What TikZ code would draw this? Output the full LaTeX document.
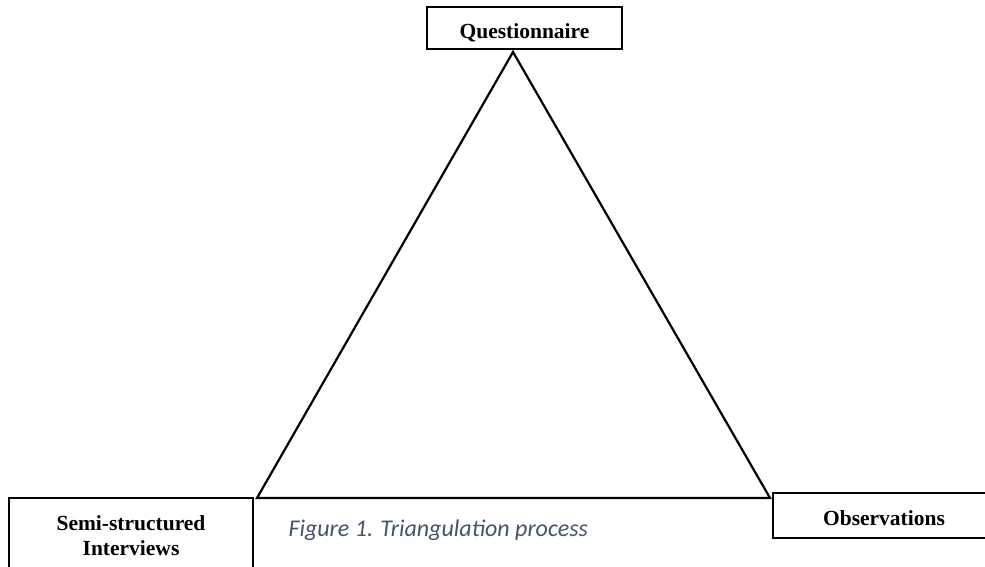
\documentclass[tikz,border=0pt]{standalone}
\usepackage{fontspec}
\setmainfont{Liberation Serif}
\newfontfamily\capfont{Carlito}
\definecolor{capgrey}{HTML}{44546A}
\begin{document}
\begin{tikzpicture}[x=1pt,y=1pt,
  methodbox/.style={draw,line width=2.2pt,align=center,
    font=\fontsize{21.5}{25}\selectfont\bfseries,inner sep=0pt}]
\useasboundingbox (0,0) rectangle (985,567);
% the three sources
\node[methodbox,minimum width=195,minimum height=42,text height=22pt,text depth=0pt] (quest) at (524.5,539) {Questionnaire};
\node[methodbox,minimum width=244,minimum height=75] (interv) at (131,31.5) {Semi-structured\\Interviews};
\node[methodbox,minimum width=222,minimum height=45,text height=20pt,text depth=0pt] (obs) at (884,51.5) {Observations};
% triangle
\coordinate (apex) at (513,515);
\coordinate (left) at (257,69);
\coordinate (right) at (770,69);
\draw[line width=2.2pt,line join=miter] (apex) -- (right) -- (left) -- cycle;
\node[anchor=west,text=capgrey,font=\capfont\itshape\fontsize{24}{28}\selectfont] (cap) at (285,37) {Figure 1. Triangulation process};
\end{tikzpicture}
\end{document}
